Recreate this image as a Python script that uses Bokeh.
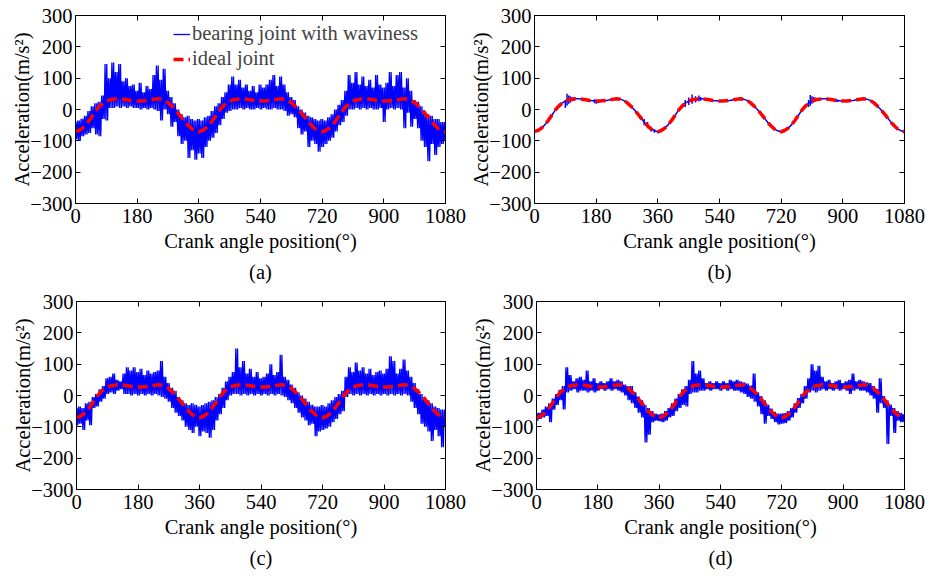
from bokeh.plotting import figure
from bokeh.layouts import column, row
from bokeh.models import Range1d, LinearAxis, FixedTicker, Title
from bokeh.embed import file_html
from bokeh.resources import INLINE

FONT = "Liberation Serif"
FS = "20.5px"

# crank angle grid (deg) for envelope readings
deg = list(range(0, 1081, 10))
x_ticks = [0, 180, 360, 540, 720, 900, 1080]
y_ticks = [-300, -200, -100, 0, 100, 200, 300]

# ideal joint acceleration (m/s^2), read every 10 deg
ideal = [
    -70, -67, -60, -49, -35, -19, -3, 10, 20, 27,
    31, 33, 34, 34, 33, 31, 29, 28, 27, 27,
    28, 29, 31, 33, 34, 33, 29, 22, 12, 1,
    -12, -26, -40, -52, -62, -68, -71, -67, -60, -49,
    -35, -19, -3, 10, 20, 27, 31, 33, 34, 34,
    33, 31, 29, 28, 27, 27, 28, 29, 31, 33,
    34, 33, 29, 22, 12, 1, -12, -26, -40, -52,
    -62, -68, -71, -67, -60, -49, -35, -19, -3, 10,
    20, 27, 31, 33, 34, 34, 33, 31, 29, 28,
    27, 27, 28, 29, 31, 33, 34, 33, 29, 22,
    12, 1, -12, -26, -40, -52, -62, -68, -71,
]

# (a) waviness signal: upper / lower extent per 10 deg
a_max = [
    -40, -35, -30, -20, -5, 10, 20, 25, 45, 145,
    100, 150, 120, 145, 90, 100, 75, 80, 60, 85,
    55, 75, 65, 110, 140, 95, 130, 60, 40, 20,
    0, -15, -25, -20, -30, -35, -30, -35, -25, -20,
    -5, 10, 20, 40, 55, 80, 105, 80, 95, 70,
    80, 60, 75, 55, 80, 70, 80, 95, 110, 75,
    105, 80, 55, 40, 30, 10, 0, -10, -20, -25,
    -30, -35, -30, -35, -25, -15, 0, 15, 30, 60,
    110, 85, 120, 80, 105, 75, 95, 70, 110, 80,
    70, 85, 120, 75, 110, 120, 70, 100, 60, 30,
    25, 10, -5, -15, -20, -30, -30, -40, -40,
]
a_min = [
    -95, -100, -85, -80, -75, -60, -80, -85, -30, -35,
    5, 5, 10, 5, 10, 5, 10, 5, 5, 0,
    5, 0, 5, 0, -5, -35, 0, -15, -55, -40,
    -85, -110, -100, -155, -130, -160, -140, -155, -120, -100,
    -90, -75, -50, -30, -10, -5, 0, 0, 5, 0,
    5, 0, 0, 5, 0, 5, 0, 0, 5, 0,
    0, -5, -20, -15, -25, -60, -80, -70, -120, -100,
    -110, -135, -120, -110, -100, -90, -70, -50, -40, -20,
    0, 0, 5, 0, 5, 0, 5, 0, 0, 5,
    -40, 0, 5, 0, 5, 0, -60, -10, -55, -30,
    -60, -100, -120, -165, -110, -145, -120, -110, -100,
]

# (b) short bursts around the ideal curve
b_burst_deg = [90, 95, 100, 105, 110, 115, 175, 180, 185, 190, 320, 330, 340, 350,
               440, 450, 460, 470, 480, 485, 600, 605, 800, 805, 810, 815, 820, 825, 880, 885]
b_burst_hi = [30, 50, 45, 42, 38, 40, 33, 32, 30, 28, -30, -40, -55, -62,
              30, 38, 48, 42, 45, 40, 40, 38, 30, 46, 42, 40, 38, 36, 34, 32]
b_burst_lo = [5, 12, 18, 22, 26, 28, 20, 18, 20, 22, -50, -60, -70, -74,
              8, 14, 18, 22, 26, 28, 30, 30, 8, 12, 18, 22, 26, 28, 24, 24]

# (c)
c_max = [
    -40, -35, -40, -25, -20, -5, 5, 20, 30, 55,
    60, 70, 50, 45, 70, 90, 80, 90, 75, 85,
    65, 80, 70, 75, 80, 110, 60, 40, 25, 15,
    -5, -15, -25, -30, -25, -30, -35, -30, -25, -20,
    -15, -5, 5, 25, 45, 60, 75, 150, 90, 110,
    70, 85, 60, 75, 55, 60, 70, 100, 65, 75,
    130, 60, 50, 35, 25, 10, 0, -10, -20, -30,
    -35, -35, -30, -35, -25, -15, -5, 5, 15, 60,
    90, 75, 105, 80, 90, 70, 85, 65, 75, 80,
    70, 85, 125, 110, 70, 85, 115, 80, 60, 40,
    20, 5, -5, -15, -25, -35, -40, -45, -45,
]
c_min = [
    -95, -90, -110, -80, -95, -40, -35, -20, -10, 5,
    10, 5, 15, 20, 5, 5, 0, 5, 0, 5,
    0, 5, 0, 5, 0, -5, -10, -20, -40, -55,
    -65, -80, -100, -110, -120, -100, -130, -115, -120, -135,
    -110, -80, -60, -40, -15, 0, 5, 5, 0, 5,
    0, 5, 0, 5, 0, 5, 0, 5, 0, 5,
    0, -5, -15, -25, -40, -55, -70, -80, -95, -90,
    -130, -115, -110, -105, -100, -85, -75, -60, -50, -5,
    5, 0, 5, 0, 5, 0, 5, 0, 5, 0,
    5, 0, 5, 0, 5, 0, 5, 0, -20, -40,
    -60, -90, -100, -115, -145, -110, -130, -165, -100,
]

# (d)
d_max = [
    -55, -55, -45, -35, -25, -10, 5, 18, 30, 90,
    65, 45, 55, 60, 50, 80, 45, 55, 40, 45,
    40, 45, 55, 45, 50, 45, 35, 30, 30, 10,
    -3, -15, -30, -40, -50, -58, -60, -58, -50, -40,
    -25, -10, 5, 20, 30, 50, 110, 70, 80, 55,
    40, 45, 40, 45, 40, 45, 40, 50, 45, 50,
    45, 42, 38, 32, 70, 10, -2, -15, -30, -42,
    -52, -58, -58, -56, -50, -40, -25, -8, 5, 30,
    55, 100, 80, 95, 60, 45, 50, 40, 45, 50,
    40, 45, 50, 70, 45, 50, 45, 42, 40, 30,
    20, 55, -2, -15, -30, -40, -50, -55, -60,
]
d_min = [
    -80, -75, -70, -65, -85, -45, -30, -15, -45, 10,
    15, 20, 10, 15, 15, 10, 15, 10, 15, 20,
    15, 20, 15, 20, 15, 10, 0, -15, -25, -40,
    -55, -70, -150, -125, -85, -80, -82, -85, -80, -70,
    -65, -50, -40, -30, -35, 5, 10, 10, 15, 15,
    20, 15, 20, 20, 15, 20, 15, 20, 15, 15,
    10, 5, -5, -10, -20, -35, -60, -90, -65, -75,
    -85, -92, -90, -88, -80, -70, -55, -40, -25, -10,
    10, 15, 10, 15, 20, 15, 20, 15, 20, 15,
    20, 15, 5, 15, 20, 15, 15, 10, 0, -10,
    -55, -25, -40, -155, -65, -120, -80, -85, -85,
]

BLUE = "#0000FF"
RED = "#FF0000"


def dense_trace(xs_in, hi, lo):
    # each 10-degree bin is drawn as two up/down strokes spanning its extent
    xs, ys = [], []
    for d, h, l in zip(xs_in, hi, lo):
        for off, v in ((-3.75, h), (-1.25, l), (1.25, h), (3.75, l)):
            xs.append(min(max(d + off, 0), 1080))
            ys.append(v)
    return xs, ys


def make(caption, W, H, left, top, bottom, cap_standoff):
    p = figure(width=W, height=H,
               x_range=Range1d(0, 1080), y_range=Range1d(-300, 300),
               output_backend="svg", toolbar_location=None,
               min_border_left=left, min_border_right=22,
               min_border_top=top, min_border_bottom=bottom)
    p.background_fill_color = "white"
    p.border_fill_color = "white"
    p.outline_line_color = "black"
    p.outline_line_alpha = 1
    p.grid.grid_line_color = None
    p.xaxis.ticker = FixedTicker(ticks=x_ticks)
    p.yaxis.ticker = FixedTicker(ticks=y_ticks)
    p.xaxis.axis_label = "Crank angle position(°)"
    p.yaxis.axis_label = "Acceleration(m/s²)"
    for ax in p.axis:
        ax.major_tick_in = 5
        ax.major_tick_out = 0
        ax.minor_tick_line_color = None
        ax.axis_line_color = "black"
        ax.major_tick_line_color = "black"
        ax.major_label_text_font = FONT
        ax.major_label_text_font_size = FS
        ax.major_label_text_color = "black"
        ax.axis_label_text_font = FONT
        ax.axis_label_text_font_size = FS
        ax.axis_label_text_font_style = "normal"
        ax.axis_label_text_color = "black"
    p.xaxis.major_label_standoff = 5
    p.xaxis.axis_label_standoff = 4
    p.yaxis.major_label_standoff = 3
    p.yaxis.axis_label_standoff = -6
    r_ax = LinearAxis(ticker=FixedTicker(ticks=y_ticks), major_tick_in=5, major_tick_out=0,
                      minor_tick_line_color=None,
                      major_label_overrides={t: "" for t in y_ticks},
                      major_label_standoff=0, axis_line_color="black")
    t_ax = LinearAxis(ticker=FixedTicker(ticks=x_ticks), major_tick_in=5, major_tick_out=0,
                      minor_tick_line_color=None,
                      major_label_overrides={t: "" for t in x_ticks},
                      major_label_standoff=0, axis_line_color="black")
    p.add_layout(r_ax, "right")
    p.add_layout(t_ax, "above")
    cap = Title(text=caption, align="center", text_font=FONT, text_font_size=FS,
                text_font_style="normal", text_color="black", standoff=cap_standoff)
    p.add_layout(cap, "below")
    return p


# (a)
pa = make("(a)", 467, 289, 75, 15, 86, 8)
xa, ya = dense_trace(deg, a_max, a_min)
pa.line(xa, ya, line_color=BLUE, line_width=1.3, legend_label="bearing joint with waviness")
pa.line(deg, ideal, line_color=RED, line_width=3.5, line_dash="10 5", legend_label="ideal joint")
pa.legend.location = (98, 133)
pa.legend.border_line_alpha = 0
pa.legend.background_fill_alpha = 0
pa.legend.label_text_font = FONT
pa.legend.label_text_font_size = FS
pa.legend.glyph_width = 17
pa.legend.glyph_height = 20
pa.legend.label_height = 20
pa.legend.label_standoff = 2
pa.legend.padding = 0
pa.legend.spacing = 2
pa.legend.margin = 0

# (b)
pb = make("(b)", 459, 289, 67, 15, 86, 8)
pb.line(deg, ideal, line_color=BLUE, line_width=1.5)
pb.segment(x0=b_burst_deg, y0=b_burst_lo, x1=b_burst_deg, y1=b_burst_hi,
           line_color=BLUE, line_width=1.5)
pb.line(deg, ideal, line_color=RED, line_width=3.5, line_dash="10 5")

# (c)
pc = make("(c)", 467, 287, 76, 12, 87, 9)
xc, yc = dense_trace(deg, c_max, c_min)
pc.line(xc, yc, line_color=BLUE, line_width=1.3)
pc.line(deg, ideal, line_color=RED, line_width=3.5, line_dash="10 5")

# (d)
pd = make("(d)", 459, 287, 69, 12, 87, 9)
xd, yd = dense_trace(deg, d_max, d_min)
pd.line(xd, yd, line_color=BLUE, line_width=1.3)
pd.line(deg, ideal, line_color=RED, line_width=3.5, line_dash="10 5")

layout = column(row(pa, pb), row(pc, pd))
open("out.html", "w").write(file_html(layout, INLINE))
